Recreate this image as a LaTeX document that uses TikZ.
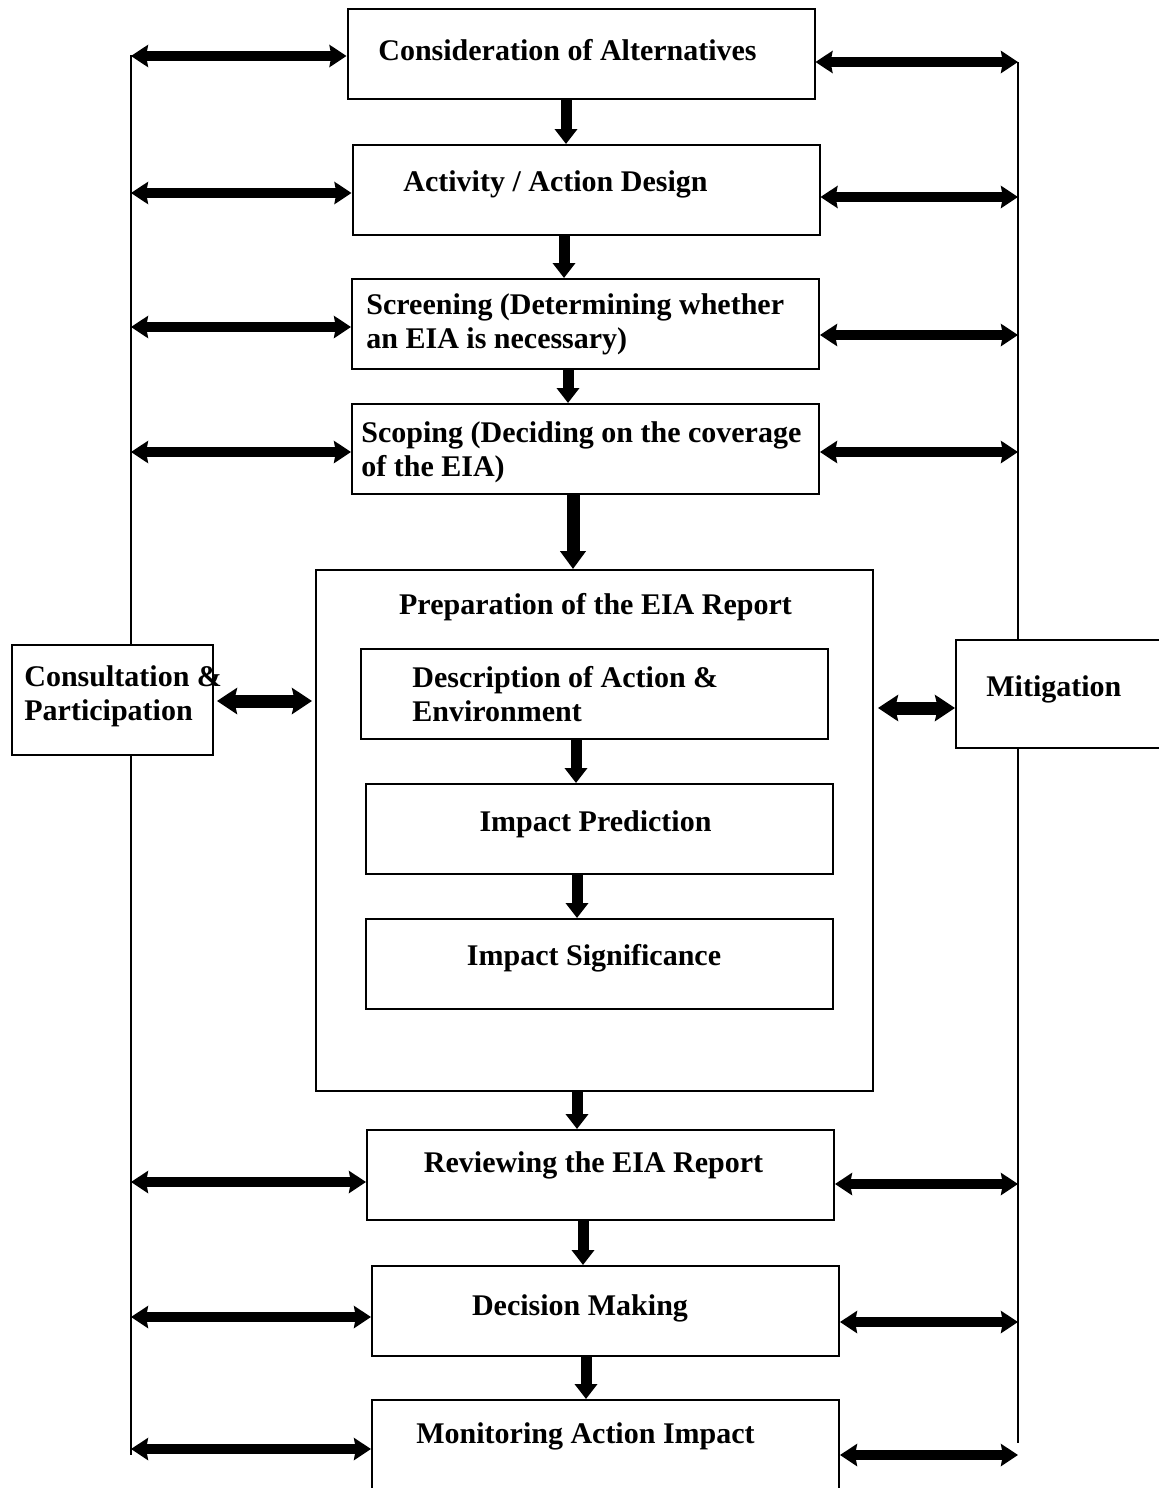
\documentclass[tikz,border=0pt]{standalone}
\usepackage{fontspec}
\setmainfont{Liberation Serif}
\usetikzlibrary{arrows.meta,calc}

\tikzset{
	stage/.style={draw, line width=1pt, minimum width=233.5pt, minimum height=45pt, inner sep=0pt},
	txt/.style={font=\fontsize{15}{17}\selectfont\bfseries, inner sep=0pt, anchor=base},
	txtl/.style={font=\fontsize{15}{17}\selectfont\bfseries, inner sep=0pt, anchor=west, align=left},
	rail/.style={line width=1pt},
	side/.style={line width=4.75pt, {Stealth[length=8.5pt,width=11pt,inset=1pt]}-{Stealth[length=8.5pt,width=11pt,inset=1pt]}},
	sidebig/.style={line width=6.5pt, {Stealth[length=10pt,width=13pt,inset=1.5pt]}-{Stealth[length=10pt,width=13pt,inset=1.5pt]}},
	down/.style={line width=5.5pt, -{Triangle[length=7.5pt,width=11pt]}},
	downbig/.style={line width=6.5pt, -{Triangle[length=9pt,width=12.5pt]}}
}

\begin{document}
\begin{tikzpicture}[x=0.5pt, y=-0.5pt]
	\useasboundingbox (0,0) rectangle (1159,1488);
	\clip (0,0) rectangle (1159,1488);

	% main chain
	\node[stage] (alt) at (581,54) {};
	\node[stage] (act) at (586,190) {};
	\node[stage] (scr) at (585.5,324) {};
	\node[stage] (scp) at (585.5,449) {};
	\node[stage, minimum width=278.5pt, minimum height=260.5pt] (prep) at (594.5,830.5) {};
	\node[stage] (desc) at (594.5,694) {};
	\node[stage] (pred) at (599.5,829) {};
	\node[stage] (sig) at (599,964) {};
	\node[stage] (rev) at (600.5,1175) {};
	\node[stage] (dec) at (605.5,1311) {};
	\node[stage, minimum height=50pt] (mon) at (605.5,1450) {};

	% side boxes
	\node[stage, minimum width=100.5pt, minimum height=55pt] (cons) at (112.5,700) {};
	\node[stage, minimum width=122pt, minimum height=54pt] (miti) at (1078,694) {};

	% texts
	\node[txt] (altT) at (567.5,60) {Consideration of Alternatives};
	\node[txt] (actT) at (555.5,191) {Activity / Action Design};
	\node[txtl] (scrT) at (366,324) {Screening (Determining whether\\an EIA is necessary)};
	\node[txtl] (scpT) at (361,452) {Scoping (Deciding on the coverage\\of the EIA)};
	\node[txt] (prepT) at (595.5,614) {Preparation of the EIA Report};
	\node[txtl] (descT) at (412,694) {Description of Action \&\\Environment};
	\node[txt] (predT) at (595.5,831) {Impact Prediction};
	\node[txt] (sigT) at (594,965) {Impact Significance};
	\node[txt] (revT) at (593.5,1172) {Reviewing the EIA Report};
	\node[txt] (decT) at (580,1315) {Decision Making};
	\node[txt] (monT) at (585.5,1443) {Monitoring Action Impact};
	\node[txtl] (consT) at (24,696) {Consultation \&\\Participation};
	\node[txt, anchor=base west] (mitiT) at (986,696) {Mitigation};

	% rails
	\coordinate (ltop) at (131,55);
	\coordinate (lbot) at (131,1455);
	\coordinate (rtop) at (1018,62);
	\coordinate (rbot) at (1018,1443);
	\draw[rail] (ltop) -- (ltop |- cons.north);
	\draw[rail] (cons.south -| ltop) -- (lbot);
	\draw[rail] (rtop) -- (rtop |- miti.north);
	\draw[rail] (miti.south -| rtop) -- (rbot);

	% side arrows
	\foreach \n/\dl/\dr in {alt/2/8, act/3/7, scr/3/11, scp/3/3, rev/7/9, dec/6/11, mon/-1/5} {
		\draw[side] ($(\n.west -| ltop)+(0,\dl)$) -- ($(\n.west)+(0,\dl)$);
		\draw[side] ($(\n.east)+(0,\dr)$) -- ($(\n.east -| rtop)+(0,\dr)$);
	}
	\draw[sidebig] ($(cons.east)+(3,1)$) -- ($(cons.east -| prep.west)+(-3,1)$);
	\draw[sidebig] ($(prep.east |- miti.west)+(4,14)$) -- ($(miti.west)+(0,14)$);

	% down arrows
	\foreach \a/\b/\x in {alt/act/566, act/scr/564, scr/scp/568, desc/pred/576, pred/sig/577, prep/rev/577, rev/dec/583, dec/mon/586} {
		\coordinate (ax) at (\x,0);
		\draw[down] (\a.south -| ax) -- (\b.north -| ax);
	}
	\coordinate (ax) at (573,0);
	\draw[downbig] (scp.south -| ax) -- (prep.north -| ax);
\end{tikzpicture}
\end{document}
